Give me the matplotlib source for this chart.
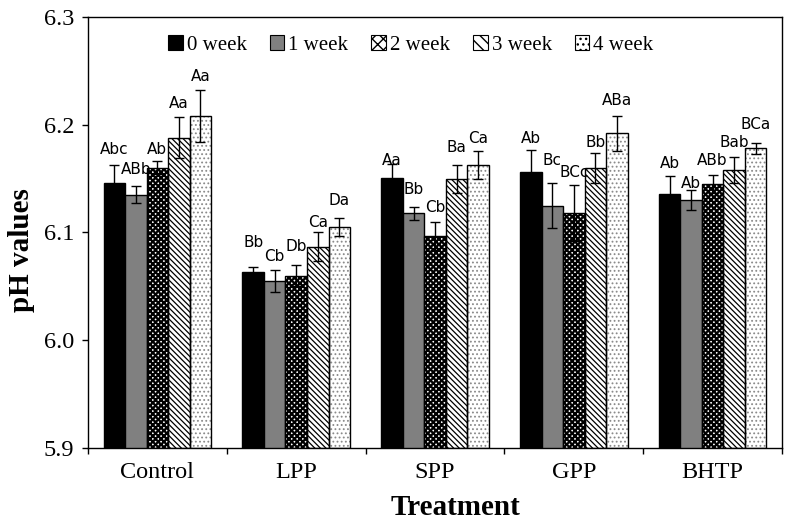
import matplotlib
matplotlib.use('Agg')
import matplotlib.pyplot as plt
import numpy as np

treatments = ['Control', 'LPP', 'SPP', 'GPP', 'BHTP']
weeks = ['0 week', '1 week', '2 week', '3 week', '4 week']

# mean pH per week, one value per treatment
week0 = [6.146, 6.063, 6.151, 6.156, 6.136]
week1 = [6.135, 6.055, 6.118, 6.125, 6.130]
week2 = [6.160, 6.060, 6.097, 6.118, 6.145]
week3 = [6.188, 6.087, 6.150, 6.160, 6.158]
week4 = [6.208, 6.105, 6.163, 6.192, 6.178]

err0 = [0.017, 0.005, 0.013, 0.021, 0.016]
err1 = [0.008, 0.010, 0.006, 0.021, 0.009]
err2 = [0.006, 0.010, 0.013, 0.026, 0.008]
err3 = [0.019, 0.013, 0.013, 0.014, 0.012]
err4 = [0.024, 0.008, 0.013, 0.016, 0.005]

lab0 = ['Abc', 'Bb', 'Aa', 'Ab', 'Ab']
lab1 = ['ABb', 'Cb', 'Bb', 'Bc', 'Ab']
lab2 = ['Ab', 'Db', 'Cb', 'BCc', 'ABb']
lab3 = ['Aa', 'Ca', 'Ba', 'Bb', 'Bab']
lab4 = ['Aa', 'Da', 'Ca', 'ABa', 'BCa']

means = [week0, week1, week2, week3, week4]
errs = [err0, err1, err2, err3, err4]
labs = [lab0, lab1, lab2, lab3, lab4]

# how far (pixels) each letter label sits above its error bar, as in the original
lift = [[15, 24, 3, 11, 13],
        [17, 14, 17, 22, 7],
        [12, 18, 14, 13, 15],
        [14, 10, 17, 10, 15],
        [14, 18, 12, 16, 19]]

# fill, hatch, hatch colour, hatch width
styles = [('black', '', 'black', 0.8),
          ('#808080', '', 'black', 0.8),
          ('white', 'xxxxxx', 'black', 1.6),
          ('white', '\\\\\\\\\\\\', 'black', 0.9),
          ('white', '....', '#8a8a8a', 0.8)]

serif = 'Liberation Serif'

fig = plt.figure(figsize=(7.86, 5.23), dpi=100)
ax = fig.add_axes([0.112, 0.1434, 0.883, 0.8241])

x = np.arange(len(treatments))
w = 0.155
base = 5.9

for i in range(5):
    fc, hatch, hc, hlw = styles[i]
    pos = x + (i - 2) * w
    heights = np.array(means[i]) - base
    if hatch:
        with plt.rc_context({'hatch.linewidth': hlw}):
            ax.bar(pos, heights, w, bottom=base, color=fc, hatch=hatch,
                   edgecolor=hc, linewidth=0, zorder=2)
        ax.bar(pos, heights, w, bottom=base, fill=False, edgecolor='black',
               linewidth=1, zorder=3)
    else:
        ax.bar(pos, heights, w, bottom=base, color=fc, edgecolor='black',
               linewidth=1, zorder=3)
    ax.errorbar(pos, means[i], yerr=errs[i], fmt='none', ecolor='black',
                elinewidth=1, capsize=3.5, capthick=1, zorder=4)
    for p, m, e, t, d in zip(pos, means[i], errs[i], labs[i], lift[i]):
        ax.annotate(t, (p, m + e), xytext=(0, d * 0.72),
                    textcoords='offset points', ha='center', va='center',
                    fontsize=11, family='DejaVu Sans', zorder=5)

# legend proxies
handles = []
for i in range(5):
    fc, hatch, hc, hlw = styles[i]
    with plt.rc_context({'hatch.linewidth': min(hlw, 1.0)}):
        if hatch:
            h = plt.Rectangle((0, 0), 1, 1, facecolor=fc, hatch=hatch[:3],
                              edgecolor='black', linewidth=0.8)
        else:
            h = plt.Rectangle((0, 0), 1, 1, facecolor=fc, edgecolor='black',
                              linewidth=0.8)
    handles.append(h)
ax.legend(handles, weeks, ncol=5, frameon=False, loc='center',
          bbox_to_anchor=(0.465, 0.935), prop={'family': serif, 'size': 15},
          handlelength=0.7, handleheight=0.7, handletextpad=0.2,
          columnspacing=1.1)

ax.set_xlim(-0.5, 4.5)
ax.set_ylim(5.9, 6.3)
ax.set_yticks(np.arange(5.9, 6.31, 0.1))
ax.set_yticklabels(['%.1f' % v for v in np.arange(5.9, 6.31, 0.1)])
ax.set_xticks(x)
ax.set_xticklabels(treatments)
ax.set_xticks(np.arange(-0.5, 4.6, 1), minor=True)
ax.tick_params(axis='x', which='major', length=0, pad=10)
ax.tick_params(axis='x', which='minor', length=4, direction='out', width=1)
ax.tick_params(axis='y', length=4, direction='out', width=1, pad=6)
for lbl in ax.get_xticklabels() + ax.get_yticklabels():
    lbl.set_fontfamily(serif)
    lbl.set_fontsize(17.5)

for s in ax.spines.values():
    s.set_linewidth(1)

ax.set_xlabel('Treatment', family=serif, fontsize=21, fontweight='bold')
ax.set_ylabel('pH values', family=serif, fontsize=21, fontweight='bold')
ax.xaxis.label.set_va('center')
ax.yaxis.label.set_va('center')
ax.xaxis.set_label_coords(0.530, -0.137)
ax.yaxis.set_label_coords(-0.0965, 0.459)

plt.savefig('out.png', dpi=100)
